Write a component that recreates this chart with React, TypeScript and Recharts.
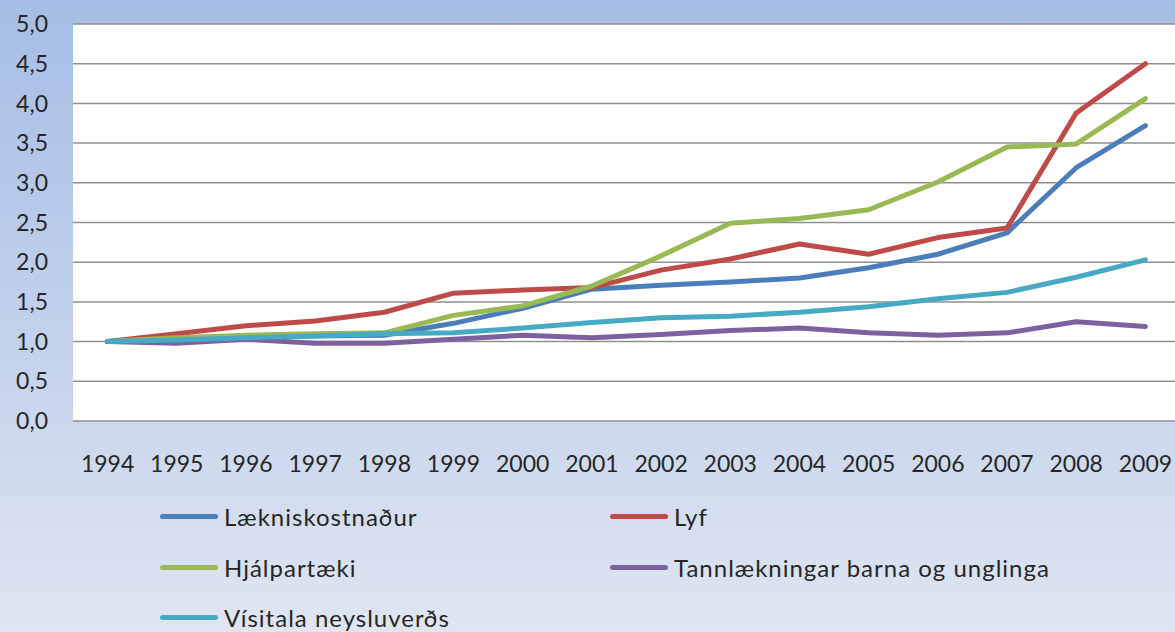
import { CartesianGrid, Line, LineChart, XAxis, YAxis } from "recharts";

const years = ["1994", "1995", "1996", "1997", "1998", "1999", "2000", "2001", "2002", "2003", "2004", "2005", "2006", "2007", "2008", "2009"];
const laekniskostnadur = [1.0, 1.02, 1.05, 1.07, 1.08, 1.23, 1.42, 1.66, 1.71, 1.75, 1.8, 1.93, 2.1, 2.37, 3.19, 3.72];
const lyf = [1.0, 1.1, 1.2, 1.26, 1.37, 1.61, 1.65, 1.68, 1.9, 2.04, 2.23, 2.1, 2.31, 2.43, 3.88, 4.5];
const hjalpartaeki = [1.0, 1.05, 1.08, 1.1, 1.11, 1.33, 1.45, 1.7, 2.08, 2.49, 2.55, 2.66, 3.01, 3.45, 3.49, 4.06];
const tannlaekningar = [1.0, 0.98, 1.03, 0.98, 0.98, 1.03, 1.08, 1.05, 1.09, 1.14, 1.17, 1.11, 1.08, 1.11, 1.25, 1.19];
const visitala = [1.0, 1.02, 1.05, 1.07, 1.1, 1.11, 1.17, 1.24, 1.3, 1.32, 1.37, 1.44, 1.54, 1.62, 1.81, 2.03];
const yTicks = [0, 0.5, 1, 1.5, 2, 2.5, 3, 3.5, 4, 4.5, 5];

const series = [
  { key: "laek", name: "Lækniskostnaður", color: "#4a7ebb", values: laekniskostnadur },
  { key: "lyf", name: "Lyf", color: "#be4b48", values: lyf },
  { key: "hjalp", name: "Hjálpartæki", color: "#98b954", values: hjalpartaeki },
  { key: "tann", name: "Tannlækningar barna og unglinga", color: "#7d60a0", values: tannlaekningar },
  { key: "vis", name: "Vísitala neysluverðs", color: "#46aac5", values: visitala },
];

const data = years.map((y, i) => {
  const row: Record<string, string | number> = { year: y };
  series.forEach((s) => {
    row[s.key] = s.values[i];
  });
  return row;
});

const font = "Lato, 'Open Sans', sans-serif";
const tickStyle = { fontSize: 23, fill: "#262626", fontFamily: font };

// legend: two columns, filled row by row like Excel
const legendPos = [
  { x: 160, y: 516 },
  { x: 610, y: 516 },
  { x: 160, y: 567 },
  { x: 610, y: 567 },
  { x: 160, y: 617 },
];

export default function App() {
  return (
    <div
      style={{
        position: "fixed",
        left: 0,
        top: 0,
        width: 1175,
        height: 632,
        overflow: "hidden",
        background: "linear-gradient(180deg, #a6bde5 0%, #c4d2ec 55%, #dfe6f2 100%)",
      }}
    >
      <LineChart
        width={1175}
        height={632}
        data={data}
        margin={{ top: 24, right: -5, left: 0, bottom: 0 }}
      >
        <CartesianGrid vertical={false} fill="#ffffff" stroke="#8f8f8f" strokeWidth={1.5} />
        <XAxis
          dataKey="year"
          height={211}
          axisLine={false}
          tickLine={false}
          tickSize={0}
          tickMargin={35}
          padding={{ left: 34.6, right: 34.6 }}
          tick={tickStyle}
          interval={0}
        />
        <YAxis
          width={73}
          domain={[0, 5]}
          ticks={yTicks}
          axisLine={false}
          tickLine={false}
          tickSize={0}
          tickMargin={25}
          tick={tickStyle}
          tickFormatter={(v) => Number(v).toFixed(1).replace(".", ",")}
        />
        {series.map((s) => (
          <Line
            key={s.key}
            type="linear"
            dataKey={s.key}
            name={s.name}
            stroke={s.color}
            strokeWidth={5}
            strokeLinecap="round"
            strokeLinejoin="round"
            dot={false}
            isAnimationActive={false}
          />
        ))}
      </LineChart>
      {series.map((s, i) => (
        <div
          key={s.key}
          style={{
            position: "absolute",
            left: legendPos[i].x,
            top: legendPos[i].y - 15,
            height: 30,
            display: "flex",
            alignItems: "center",
            fontFamily: font,
            fontSize: 24,
            letterSpacing: 1,
            color: "#262626",
            whiteSpace: "nowrap",
          }}
        >
          <span
            style={{
              display: "inline-block",
              width: 58,
              height: 5,
              borderRadius: 3,
              background: s.color,
              marginRight: 6,
            }}
          />
          {s.name}
        </div>
      ))}
    </div>
  );
}
